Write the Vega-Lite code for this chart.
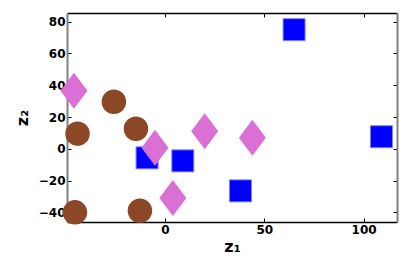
{
  "$schema": "https://vega.github.io/schema/vega-lite/v6.json",
  "width": 330,
  "height": 209,
  "autosize": "none",
  "padding": {"left": 67, "top": 13, "right": 18, "bottom": 44},
  "background": "white",
  "config": {
    "view": {"stroke": null},
    "axis": {"grid": false, "labelFont": "DejaVu Sans", "labelFontWeight": "bold", "labelFontSize": 12, "labelColor": "black", "tickColor": "black", "tickSize": -4, "titleFont": "DejaVu Sans", "titleFontWeight": "bold", "titleFontSize": 16, "titleColor": "black"}
  },
  "data": {"values": [
    {"z1": -45.8, "z2": 36.6, "g": "c"},
    {"z1": -5, "z2": 0.6, "g": "c"},
    {"z1": 4, "z2": -31, "g": "c"},
    {"z1": 20, "z2": 11, "g": "c"},
    {"z1": 44, "z2": 7, "g": "c"},
    {"z1": -44, "z2": 9.5, "g": "b"},
    {"z1": -25.7, "z2": 29.6, "g": "b"},
    {"z1": -14.6, "z2": 12.6, "g": "b"},
    {"z1": -45.3, "z2": -40, "g": "b"},
    {"z1": -12.6, "z2": -39, "g": "b"},
    {"z1": -9, "z2": -5.7, "g": "a"},
    {"z1": 9, "z2": -7.6, "g": "a"},
    {"z1": 38, "z2": -26.5, "g": "a"},
    {"z1": 65, "z2": 75, "g": "a"},
    {"z1": 109, "z2": 7.6, "g": "a"}
  ]},
  "layer": [
    {
      "transform": [{"filter": "datum.g == 'a'"}],
      "mark": {"type": "point", "shape": "square", "filled": true, "size": 484, "color": "#0000FF", "stroke": "#8080FF", "strokeWidth": 1, "opacity": 1, "clip": false},
      "encoding": {
        "x": {"field": "z1", "type": "quantitative", "scale": {"domain": [-49.3, 116.8], "nice": false, "zero": false}, "axis": {"orient": "bottom", "values": [0, 50, 100], "title": "z₁", "domainColor": "black", "domainWidth": 1.5, "labelPadding": 6, "titlePadding": 3}},
        "y": {"field": "z2", "type": "quantitative", "scale": {"domain": [-46.1, 85.5], "nice": false, "zero": false}, "axis": {"orient": "left", "values": [-40, -20, 0, 20, 40, 60, 80], "title": "z₂", "domainColor": "#808080", "domainWidth": 2, "labelPadding": 6, "titlePadding": 8}}
      }
    },
    {
      "transform": [{"filter": "datum.g == 'b'"}],
      "mark": {"type": "point", "shape": "circle", "filled": true, "size": 600, "color": "#8B4726", "opacity": 1, "clip": false},
      "encoding": {
        "x": {"field": "z1", "type": "quantitative", "axis": {"orient": "top", "values": [0, 50, 100], "labels": false, "title": null, "domainColor": "black", "domainWidth": 1.5}},
        "y": {"field": "z2", "type": "quantitative", "axis": {"orient": "right", "values": [-40, -20, 0, 20, 40, 60, 80], "labels": false, "title": null, "domainColor": "#808080", "domainWidth": 2}}
      }
    },
    {
      "transform": [{"filter": "datum.g == 'c'"}],
      "mark": {"type": "point", "shape": "M0,-1L0.75,0L0,1L-0.75,0Z", "filled": true, "size": 1296, "color": "#DA70D6", "opacity": 1, "clip": false},
      "encoding": {
        "x": {"field": "z1", "type": "quantitative", "axis": null},
        "y": {"field": "z2", "type": "quantitative", "axis": null}
      }
    }
  ],
  "resolve": {"axis": {"x": "independent", "y": "independent"}}
}
